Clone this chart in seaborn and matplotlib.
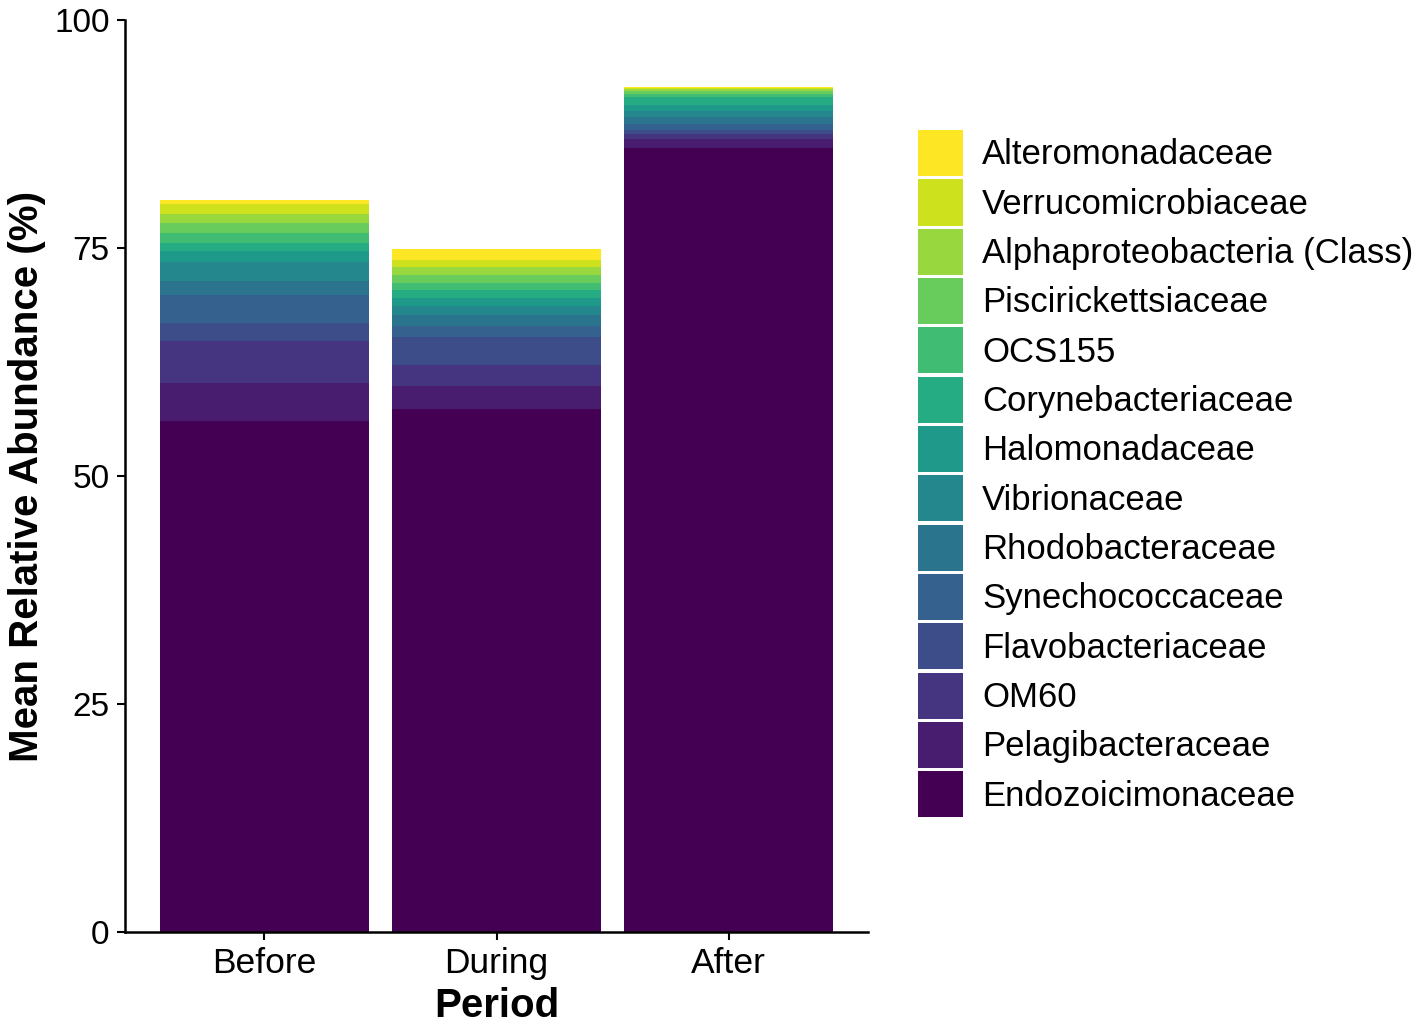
import numpy as np
import pandas as pd
import seaborn as sns
import matplotlib.pyplot as plt
from matplotlib.patches import Patch

periods = ["Before", "During", "After"]

# bottom to top of the stack
families = [
    "Endozoicimonaceae", "Pelagibacteraceae", "OM60", "Flavobacteriaceae",
    "Synechococcaceae", "Rhodobacteraceae", "Vibrionaceae", "Halomonadaceae",
    "Corynebacteriaceae", "OCS155", "Piscirickettsiaceae",
    "Alphaproteobacteria (Class)", "Verrucomicrobiaceae", "Alteromonadaceae",
]

before = [56.07, 4.17, 4.6, 1.9, 3.1, 1.54, 2.1, 1.2, 0.88, 1.1, 1.03, 1.02, 1.1, 0.44]
during = [57.4, 2.45, 2.3, 3.1, 1.17, 1.2, 1.0, 0.95, 0.8, 0.8, 0.92, 0.83, 0.73, 1.28]
after = [86.0, 0.95, 0.55, 0.45, 0.7, 0.7, 0.7, 0.65, 0.85, 0.35, 0.3, 0.2, 0.15, 0.1]

df = pd.DataFrame({"Before": before, "During": during, "After": after}, index=families)
cum = df.cumsum()

colors = plt.cm.viridis(np.linspace(0, 1, len(families)))

sns.set_style("white")
plt.rcParams['font.family'] = ['Liberation Sans', 'DejaVu Sans']
plt.rcParams['text.color'] = 'black'
plt.rcParams['axes.labelcolor'] = 'black'

fig = plt.figure(figsize=(14.18, 10.24), dpi=100)
ax = fig.add_axes([125/1418, 92/1024, 743/1418, 912/1024])

# draw tallest cumulative first, then cover with lower layers
for i in range(len(families) - 1, -1, -1):
    sns.barplot(x=periods, y=cum.iloc[i][periods].values, color=colors[i],
                width=0.9, saturation=1, ax=ax, order=periods, linewidth=0)

ax.set_xlim(-0.6, 2.6)
ax.set_ylim(0, 100)
ax.set_yticks([0, 25, 50, 75, 100])
ax.set_xlabel("Period", fontsize=29, fontweight="bold", labelpad=5)
ax.set_ylabel("Mean Relative Abundance (%)", fontsize=29, fontweight="bold", labelpad=6)
ax.tick_params(axis="both", length=6, width=1.5, direction="out",
               color="black", labelcolor="black", pad=5)
ax.tick_params(axis="x", bottom=True, labelsize=25.5)
ax.tick_params(axis="y", left=True, labelsize=24)
for s in ["top", "right"]:
    ax.spines[s].set_visible(False)
for s in ["left", "bottom"]:
    ax.spines[s].set_color("black")
    ax.spines[s].set_linewidth(1.8)

handles = [Patch(facecolor=colors[i], edgecolor="none", label=families[i])
           for i in range(len(families) - 1, -1, -1)]
fig.legend(handles=handles, loc="upper left", bbox_to_anchor=(918/1418, 1 - 130/1024),
           frameon=False, fontsize=25, handlelength=1.29, handleheight=1.67,
           labelspacing=0.09, handletextpad=0.55, borderpad=0, borderaxespad=0)

fig.savefig("out.png", dpi=100)
